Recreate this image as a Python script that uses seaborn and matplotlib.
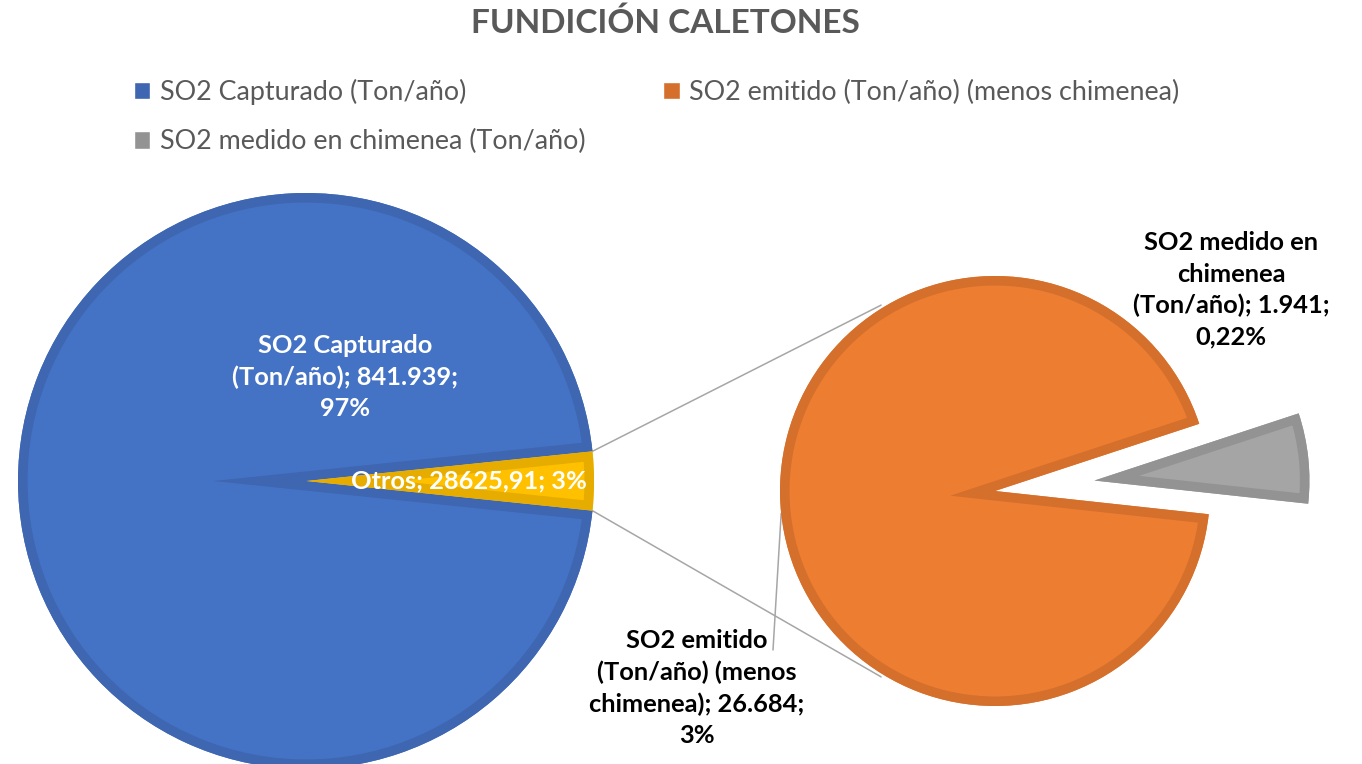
import matplotlib
matplotlib.use("Agg")
import matplotlib.pyplot as plt
from matplotlib.patches import Wedge, Patch
import numpy as np
import seaborn as sns

# data
main_labels = ["SO2 Capturado (Ton/año)", "Otros"]
main_values = [841939.0, 28625.91]
sub_labels = ["SO2 emitido (Ton/año) (menos chimenea)", "SO2 medido en chimenea (Ton/año)"]
sub_values = [26684.0, 1941.0]
legend_labels = ["SO2 Capturado (Ton/año)", "SO2 emitido (Ton/año) (menos chimenea)",
                 "SO2 medido en chimenea (Ton/año)"]
label_texts = ["SO2 Capturado\n(Ton/año); 841.939;\n97%",
               "Otros; 28625,91; 3%",
               "SO2 emitido\n(Ton/año) (menos\nchimenea); 26.684;\n3%",
               "SO2 medido en\nchimenea\n(Ton/año); 1.941;\n0,22%"]

fills = ["#4472C4", "#FFC000", "#ED7D31", "#A5A5A5"]
edges = ["#3E66B1", "#E6AD00", "#D46F2C", "#939393"]

sns.set_theme(style="white")
plt.rcParams["font.family"] = ["Lato", "DejaVu Sans"]

W, H = 1362, 764
fig = plt.figure(figsize=(W / 100, H / 100), dpi=100)
ax = fig.add_axes([0, 0, 1, 1])
ax.set_xlim(0, W)
ax.set_ylim(0, H)
ax.set_axis_off()

border_lw = 13.7  # points, half of it shows (clipped inside)


def draw_slice(c, r, t1, t2, fill, edge, z=2):
    w = Wedge(c, r, t1, t2, facecolor=fill, edgecolor="none", zorder=z)
    ax.add_patch(w)
    b = Wedge(c, r, t1, t2, facecolor="none", edgecolor=edge,
              linewidth=border_lw, joinstyle="miter", zorder=z + 0.1)
    ax.add_patch(b)
    b.set_clip_path(w)


# main pie
c1, r1 = (306, H - 481), 288
half = 180 * main_values[1] / sum(main_values)
draw_slice(c1, r1, half, 360 - half, fills[0], edges[0])
draw_slice(c1, r1, -half, half, fills[1], edges[1])

# secondary pie
c2, r2 = (995, H - 491), 215
start2 = -6.2
gray_ang = 360 * sub_values[1] / sum(sub_values)
draw_slice(c2, r2, start2 + gray_ang, start2 + 360, fills[2], edges[2])
mid = np.deg2rad(start2 + gray_ang / 2)
explode = 100
cg = (c2[0] + explode * np.cos(mid), c2[1] + explode * np.sin(mid))
draw_slice(cg, r2, start2, start2 + gray_ang, fills[3], edges[3])

# connector lines
conn_ang = 121.5
for s in (1, -1):
    a1 = np.deg2rad(s * half)
    a2 = np.deg2rad(s * conn_ang)
    ax.plot([c1[0] + r1 * np.cos(a1), c2[0] + (r2 + 3) * np.cos(a2)],
            [c1[1] + r1 * np.sin(a1), c2[1] + (r2 + 3) * np.sin(a2)],
            color="#A6A6A6", lw=1.1, zorder=1)

# leader line for orange label
om = np.deg2rad(start2 + gray_ang + (360 - gray_ang) / 2)
ax.plot([c2[0] + r2 * np.cos(om), 773], [c2[1] + r2 * np.sin(om), H - 650],
        color="#A6A6A6", lw=1.1, zorder=1)

# data labels
lab_kw = dict(ha="center", va="center", fontweight="bold", fontsize=18.3, linespacing=1.43)
ax.text(345, H - 377, label_texts[0], color="white", zorder=5, **lab_kw)
ax.text(469, H - 481, label_texts[1], color="white", zorder=5, **lab_kw)
ax.text(697, H - 688, label_texts[2], color="black", zorder=5, **lab_kw)
ax.text(1231, H - 290, label_texts[3], color="black", zorder=5, **lab_kw)

# title
fig.text(665 / W, 1 - 23 / H, "FUNDICIÓN CALETONES", ha="center", va="center",
         fontsize=24, fontweight="bold", color="#595959")

# legend (row-major order: col 1 gets entries 1 and 3)
handles = [Patch(facecolor=edges[0], label=legend_labels[0]),
           Patch(facecolor=edges[3], label=legend_labels[2]),
           Patch(facecolor=edges[2], label=legend_labels[1])]
fig.legend(handles=handles, ncol=2, loc="upper left",
           bbox_to_anchor=(134 / W, 1 - 79 / H), frameon=False,
           fontsize=19.4, labelcolor="#595959", handlelength=0.6, handleheight=0.6,
           handletextpad=0.35, columnspacing=2.9, labelspacing=0.9,
           borderpad=0, borderaxespad=0)

fig.savefig("out.png", dpi=100)
